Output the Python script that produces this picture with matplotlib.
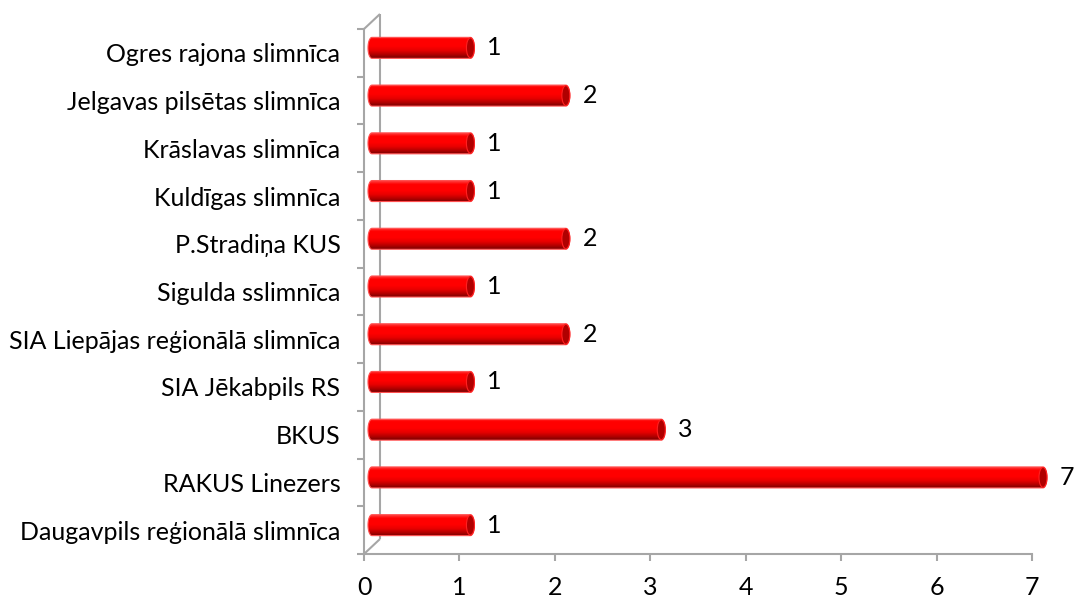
import matplotlib
matplotlib.use("Agg")
import matplotlib.pyplot as plt
import numpy as np
from matplotlib.path import Path
from matplotlib.patches import PathPatch, Ellipse
from matplotlib.colors import LinearSegmentedColormap

categories = ["Daugavpils reģionālā slimnīca", "RAKUS Linezers", "BKUS", "SIA Jēkabpils RS",
              "SIA Liepājas reģionālā slimnīca", "Sigulda sslimnīca", "P.Stradiņa KUS",
              "Kuldīgas slimnīca", "Krāslavas slimnīca", "Jelgavas pilsētas slimnīca",
              "Ogres rajona slimnīca"]
values = [1, 7, 3, 1, 2, 1, 2, 1, 1, 2, 1]
xticks = [0, 1, 2, 3, 4, 5, 6, 7]

W, H = 1078, 597
fig = plt.figure(figsize=(W / 100, H / 100), dpi=100)
plt.rcParams['font.family'] = ['Lato', 'DejaVu Sans']
FS = 18
L, R, T, B = 364, 1032, 29, 554
XMAX = 7
XEXT = 7.35  # extra room so the last cylinder is not clipped
ppx = (R - L) / XMAX
ax = fig.add_axes([L / W, 1 - B / H, XEXT * ppx / W, (B - T) / H])
ax.set_xlim(0, XEXT)
ax.set_ylim(-0.5, len(categories) - 0.5)
sx = 1 / ppx
sy = len(categories) / (B - T)
grey = '#a6a6a6'

for s in ['top', 'right']:
    ax.spines[s].set_visible(False)
for s in ['left', 'bottom']:
    ax.spines[s].set_color(grey)
    ax.spines[s].set_linewidth(1.5)
ax.spines['bottom'].set_bounds(0, XMAX)

ax.set_xticks(xticks)
ax.set_xticklabels([str(t) for t in xticks])
ax.set_yticks(range(len(categories)))
ax.set_yticklabels(categories)
ax.set_yticks(np.arange(-0.5, len(categories)), minor=True)
ax.tick_params(axis='x', length=5, width=1.5, color=grey, pad=11, labelsize=FS, labelcolor='black')
ax.tick_params(axis='y', which='major', length=0, pad=17, labelsize=FS, labelcolor='black')
ax.tick_params(axis='y', which='minor', length=5, width=1.5, color=grey)

# 3D back wall
dx, dy = 16 * sx, 15 * sy
ytop = len(categories) - 0.5
lk = dict(color=grey, lw=1.5, clip_on=False, solid_capstyle='butt')
ax.plot([dx, dx], [-0.5 + dy, ytop + dy], **lk)
ax.plot([0, dx], [ytop, ytop + dy], **lk)
ax.plot([0, dx], [-0.5, -0.5 + dy], **lk)

cmap = LinearSegmentedColormap.from_list('cyl', [
    (0.0, '#7a0000'), (0.15, '#b00000'), (0.35, '#e80000'), (0.55, '#ff0000'),
    (0.85, '#ff0000'), (1.0, '#ff3a3a')])
grad = np.linspace(0, 1, 64).reshape(-1, 1)

bh = 21 * sy
ew = 4 * sx  # half-width of end ellipse
for i, v in enumerate(values):
    yc = i + 5 * sy
    x0 = 4 * sx + ew
    x1 = v + 11 * sx
    t = np.linspace(np.pi / 2, 3 * np.pi / 2, 30)
    left = np.column_stack([x0 + ew * np.cos(t), yc + bh / 2 * np.sin(t)])
    t2 = np.linspace(-np.pi / 2, np.pi / 2, 30)
    right = np.column_stack([x1 + ew * np.cos(t2), yc + bh / 2 * np.sin(t2)])
    verts = np.vstack([left, right, left[:1]])
    codes = [Path.MOVETO] + [Path.LINETO] * (len(verts) - 2) + [Path.CLOSEPOLY]
    path = Path(verts, codes)
    patch = PathPatch(path, facecolor='none', edgecolor='#ff5050', lw=0.8, zorder=3,
                      clip_on=False)
    ax.add_patch(patch)
    im = ax.imshow(grad, cmap=cmap, extent=[x0 - ew, x1 + ew, yc - bh / 2, yc + bh / 2],
                   origin='lower', aspect='auto', zorder=2, interpolation='bilinear')
    im.set_clip_path(patch)
    cap = Ellipse((x1, yc), 2 * ew, bh * 0.95, facecolor='#b00000', edgecolor='#ff2020',
                  lw=0.8, zorder=4, clip_on=False)
    ax.add_patch(cap)
    ax.text(x1 + ew + 13 * sx, yc, str(v), ha='left', va='center', fontsize=FS,
            color='black', zorder=5, clip_on=False)

ax.set_xlim(0, XEXT)
ax.set_ylim(-0.5, len(categories) - 0.5)
fig.savefig('out.png', dpi=100)
